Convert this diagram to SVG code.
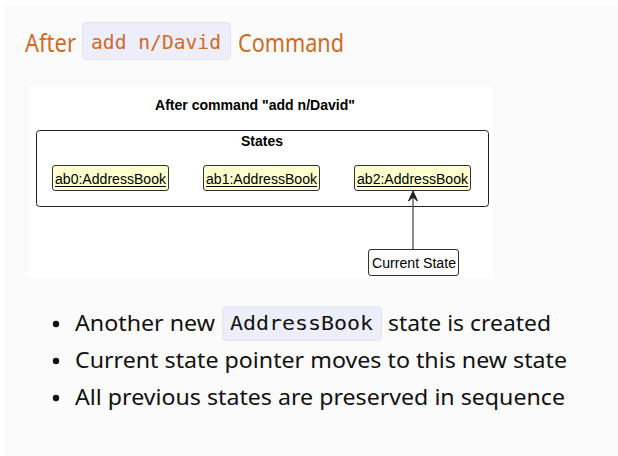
<svg xmlns="http://www.w3.org/2000/svg" width="618" height="456" viewBox="0 0 618 456">
  <style>
    .heading { font-family: "Noto Sans", "Liberation Sans", sans-serif; font-size: 25px; fill: #d2691e; }
    .heading-code { font-family: "DejaVu Sans Mono", "Liberation Mono", monospace; font-size: 20px; fill: #d2691e; }
    .pill { fill: #eeeefb; stroke: #e4e4ee; stroke-width: 1; }
    .body { font-family: "Noto Sans", "Liberation Sans", sans-serif; font-size: 22px; fill: #111; }
    .body-code { font-family: "DejaVu Sans Mono", "Liberation Mono", monospace; font-size: 20px; fill: #111; }
    .uml { font-family: "Liberation Sans", Arial, sans-serif; font-size: 14px; fill: #000; }
    .umlbold { font-family: "Liberation Sans", Arial, sans-serif; font-size: 14px; font-weight: bold; fill: #000; }
    .obj rect { fill: #fefece; stroke: #333; stroke-width: 1; }
    .obj line { stroke: #000; stroke-width: 1; }
    .note rect { fill: #fff; stroke: #333; stroke-width: 1; }
    .edge { stroke: #444; stroke-width: 1.2; fill: none; }
  </style>

  <!-- page -->
  <rect x="0" y="0" width="618" height="456" fill="#ffffff"/>
  <rect x="5" y="5" width="613" height="451" fill="#fbfbfb"/>

  <!-- heading -->
  <text class="heading" x="25" y="52" textLength="51" lengthAdjust="spacingAndGlyphs">After</text>
  <rect class="pill" x="82.5" y="22.5" width="148" height="37" rx="4"/>
  <text class="heading-code" x="91" y="49" textLength="130" lengthAdjust="spacingAndGlyphs">add n/David</text>
  <text class="heading" x="238" y="52" textLength="106" lengthAdjust="spacingAndGlyphs">Command</text>

  <!-- diagram canvas -->
  <rect x="29" y="86" width="464" height="192" fill="#ffffff"/>
  <text class="umlbold" x="155" y="110" textLength="200" lengthAdjust="spacingAndGlyphs">After command "add n/David"</text>

  <g id="states">
    <rect x="36.5" y="130.5" width="452" height="76" rx="3" fill="#fff" stroke="#222" stroke-width="1"/>
    <text class="umlbold" x="241" y="146" textLength="42" lengthAdjust="spacingAndGlyphs">States</text>
  </g>

  <g id="ab0" class="obj">
    <rect x="52.5" y="165.5" width="116" height="25" rx="2.5"/>
    <text class="uml" x="55" y="184" textLength="111" lengthAdjust="spacingAndGlyphs">ab0:AddressBook</text>
    <line x1="55" y1="186.5" x2="166" y2="186.5"/>
  </g>

  <g id="ab1" class="obj">
    <rect x="203.5" y="165.5" width="116" height="25" rx="2.5"/>
    <text class="uml" x="206" y="184" textLength="111" lengthAdjust="spacingAndGlyphs">ab1:AddressBook</text>
    <line x1="206" y1="186.5" x2="317" y2="186.5"/>
  </g>

  <g id="ab2" class="obj">
    <rect x="354.5" y="165.5" width="116" height="25" rx="2.5"/>
    <text class="uml" x="357" y="184" textLength="111" lengthAdjust="spacingAndGlyphs">ab2:AddressBook</text>
    <line x1="357" y1="186.5" x2="468" y2="186.5"/>
  </g>

  <g id="current" class="note">
    <rect x="368.5" y="249.5" width="90" height="26" rx="2.5"/>
    <text class="uml" x="372" y="268" textLength="84" lengthAdjust="spacingAndGlyphs">Current State</text>
  </g>

  <g id="connectors">
    <line class="edge" x1="413" y1="249" x2="413" y2="194"/>
    <polygon points="413,191 408.5,201 413,197 417.5,201" fill="#222" stroke="#222" stroke-width="1"/>
  </g>

  <!-- bullet list -->
  <g id="bullets">
    <circle cx="56" cy="324" r="3.2" fill="#111"/>
    <text class="body" x="75" y="331" textLength="140" lengthAdjust="spacingAndGlyphs">Another new</text>
    <rect class="pill" x="222.5" y="306.5" width="159" height="34" rx="4"/>
    <text class="body-code" x="230" y="330" textLength="143" lengthAdjust="spacingAndGlyphs">AddressBook</text>
    <text class="body" x="388" y="331" textLength="163" lengthAdjust="spacingAndGlyphs">state is created</text>

    <circle cx="56" cy="361" r="3.2" fill="#111"/>
    <text class="body" x="75" y="368" textLength="492" lengthAdjust="spacingAndGlyphs">Current state pointer moves to this new state</text>

    <circle cx="56" cy="398" r="3.2" fill="#111"/>
    <text class="body" x="75" y="405" textLength="490" lengthAdjust="spacingAndGlyphs">All previous states are preserved in sequence</text>
  </g>
</svg>
